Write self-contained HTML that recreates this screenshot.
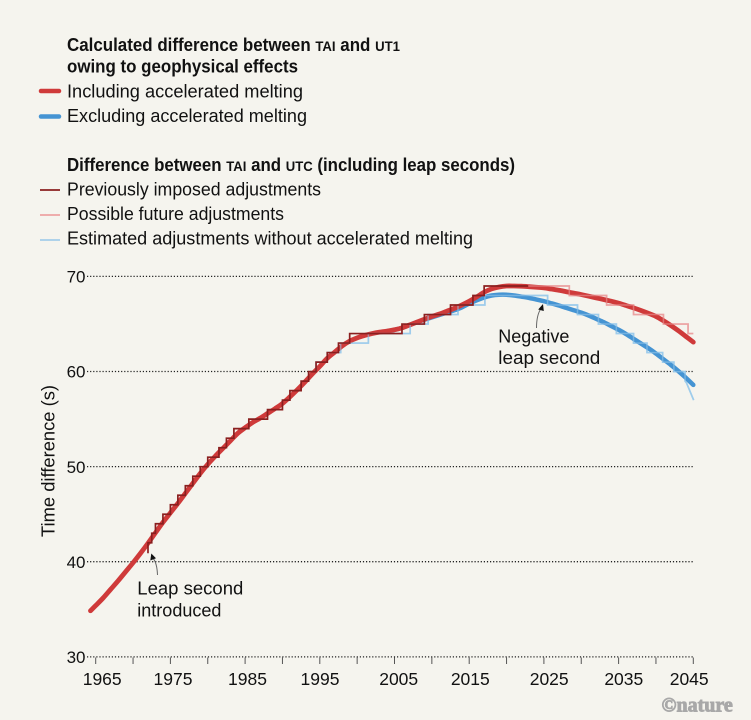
<!DOCTYPE html>
<html>
<head>
<meta charset="utf-8">
<style>
  html, body { margin:0; padding:0; background:#f5f4ee; }
  svg { display:block; }
  text { font-family: "Liberation Sans", "DejaVu Sans", sans-serif; fill:#111; }
  text.nat { font-family: "Liberation Serif", "DejaVu Serif", serif; font-weight: bold; fill:#a8a8a8; stroke:#a8a8a8; stroke-width:0.9px; }
</style>
</head>
<body>
<svg id="chart" width="751" height="720" viewBox="0 0 751 720" xmlns="http://www.w3.org/2000/svg">
  <rect x="0" y="0" width="751" height="720" fill="#f5f4ee"/>

  <!-- Legend -->
  <text x="67" y="51" font-size="18" font-weight="bold" textLength="333" lengthAdjust="spacingAndGlyphs">Calculated difference between <tspan font-size="14">TAI</tspan> and <tspan font-size="14">UT1</tspan></text>
  <text x="67" y="72.5" font-size="18" font-weight="bold" textLength="231" lengthAdjust="spacingAndGlyphs">owing to geophysical effects</text>
  <line x1="41" y1="91" x2="59" y2="91" stroke="#cf3a3a" stroke-width="4.5" stroke-linecap="round"/>
  <text x="67" y="97.5" font-size="18" textLength="236" lengthAdjust="spacingAndGlyphs">Including accelerated melting</text>
  <line x1="41" y1="116.5" x2="59" y2="116.5" stroke="#4594d3" stroke-width="4.5" stroke-linecap="round"/>
  <text x="67" y="122" font-size="18" textLength="240" lengthAdjust="spacingAndGlyphs">Excluding accelerated melting</text>

  <text x="67" y="171" font-size="18" font-weight="bold" textLength="448" lengthAdjust="spacingAndGlyphs">Difference between <tspan font-size="14">TAI</tspan> and <tspan font-size="14">UTC</tspan> (including leap seconds)</text>
  <line x1="40" y1="190" x2="60" y2="190" stroke="#8a1f1f" stroke-width="1.8"/>
  <text x="67" y="195.5" font-size="18" textLength="254" lengthAdjust="spacingAndGlyphs">Previously imposed adjustments</text>
  <line x1="40" y1="215" x2="60" y2="215" stroke="#eda3a3" stroke-width="1.8"/>
  <text x="67" y="220" font-size="18" textLength="217" lengthAdjust="spacingAndGlyphs">Possible future adjustments</text>
  <line x1="40" y1="240" x2="60" y2="240" stroke="#a3cdea" stroke-width="1.8"/>
  <text x="67" y="244.5" font-size="18" textLength="406" lengthAdjust="spacingAndGlyphs">Estimated adjustments without accelerated melting</text>

  <!-- gridlines -->
  <g stroke="#222" stroke-width="1.3" stroke-dasharray="1.2 1.9">
    <line x1="87" y1="276.4" x2="693.5" y2="276.4"/>
    <line x1="87" y1="371.5" x2="693.5" y2="371.5"/>
    <line x1="87" y1="466.6" x2="693.5" y2="466.6"/>
    <line x1="87" y1="561.7" x2="693.5" y2="561.7"/>
    <line x1="87" y1="656.9" x2="693.5" y2="656.9"/>
  </g>
  <g id="ticks" stroke="#555" stroke-width="1"></g>

  <!-- y labels -->
  <g font-size="17" text-anchor="end">
    <text x="85.5" y="282.6">70</text>
    <text x="85.5" y="377.7">60</text>
    <text x="85.5" y="472.8">50</text>
    <text x="85.5" y="567.9">40</text>
    <text x="85.5" y="663.1">30</text>
  </g>
  <text transform="translate(54.5,461) rotate(-90)" font-size="18" text-anchor="middle" textLength="152" lengthAdjust="spacingAndGlyphs">Time difference (s)</text>

  <!-- x labels -->
  <g font-size="17.5" text-anchor="middle">
    <text x="102.2" y="685">1965</text>
    <text x="173" y="685">1975</text>
    <text x="247.5" y="685">1985</text>
    <text x="320" y="685">1995</text>
    <text x="398.7" y="685">2005</text>
    <text x="470.3" y="685">2015</text>
    <text x="549.2" y="685">2025</text>
    <text x="623.8" y="685">2035</text>
    <text x="689.2" y="685">2045</text>
  </g>

  <!-- series -->
  <path id="lbsteps" fill="none" stroke="#9ccbeb" stroke-width="1.7" opacity="0.95"/>
  <path id="pinksteps" fill="none" stroke="#eba0a0" stroke-width="1.7" opacity="0.95"/>
  <path id="bluecurve" fill="none" stroke="#4594d3" stroke-width="4.5" stroke-linecap="round" stroke-linejoin="round"/>
  <path id="redcurve" fill="none" stroke="#cf3a3a" stroke-width="4.8" stroke-linecap="round" stroke-linejoin="round"/>
  <path id="lbsteps2" fill="none" stroke="#9ccbeb" stroke-width="1.5" opacity="0.55"/>
  <path id="pinksteps2" fill="none" stroke="#eba0a0" stroke-width="1.5" opacity="0.55"/>
  <path id="darksteps" fill="none" stroke="#8a1f1f" stroke-width="1.7"/>

  <!-- annotations -->
  <path d="M157.5,575 Q157,563 153.2,558.5" fill="none" stroke="#666" stroke-width="1"/>
  <polygon points="151.3,553.5 150.3,560.5 156,558.3" fill="#111"/>
  <text x="137.3" y="594.5" font-size="18" textLength="106" lengthAdjust="spacingAndGlyphs">Leap second</text>
  <text x="137.3" y="616.5" font-size="18">introduced</text>

  <path d="M536.5,328 Q536.5,315 541,308.5" fill="none" stroke="#666" stroke-width="1"/>
  <polygon points="543,304 538.2,309.5 543.8,311" fill="#111"/>
  <text x="498.3" y="342.7" font-size="18">Negative</text>
  <text x="498.3" y="364" font-size="18" textLength="102" lengthAdjust="spacingAndGlyphs">leap second</text>

  <text class="nat" x="661.5" y="711.5" font-size="20" font-weight="bold">©nature</text>
</svg>

<script>
(function(){
  var X = function(t){ return 95.7 + (t-1965)*7.47; };
  var Y = function(v){ return 656.9 - (v-30)*9.51; };
  function f(n){ return n.toFixed(2); }
  function smooth(data){
    var p = data.map(function(d){ return [X(d[0]), Y(d[1])]; });
    var s = 'M' + f(p[0][0]) + ',' + f(p[0][1]);
    for (var i=0;i<p.length-1;i++){
      var p0 = p[i-1]||p[i], p1=p[i], p2=p[i+1], p3=p[i+2]||p[i+1];
      var c1x = p1[0]+(p2[0]-p0[0])/6, c1y = p1[1]+(p2[1]-p0[1])/6;
      var c2x = p2[0]-(p3[0]-p1[0])/6, c2y = p2[1]-(p3[1]-p1[1])/6;
      s += ' C'+f(c1x)+','+f(c1y)+' '+f(c2x)+','+f(c2y)+' '+f(p2[0])+','+f(p2[1]);
    }
    return s;
  }
  function steps(t0, v0, changes, tEnd){
    var s = 'M'+f(X(t0))+','+f(Y(v0));
    var cur = v0;
    changes.forEach(function(c){
      s += ' L'+f(X(c[0]))+','+f(Y(cur))+' L'+f(X(c[0]))+','+f(Y(c[1]));
      cur = c[1];
    });
    if (tEnd!==undefined) s += ' L'+f(X(tEnd))+','+f(Y(cur));
    return s;
  }
  var red = [
    [1964.3,34.85],[1965,35.4],[1966,36.2],[1967,37.1],[1968,38.0],[1969,38.95],[1970,39.9],
    [1971,40.9],[1972,41.95],[1973,43.05],[1974,44.15],[1975,45.15],[1976,46.15],[1977,47.2],
    [1978,48.25],[1979,49.3],[1980,50.25],[1981,51.1],[1982,51.9],[1983,52.7],[1984,53.5],
    [1985,54.1],[1986,54.65],[1987,55.1],[1988,55.6],[1989,56.1],[1990,56.65],[1991,57.35],
    [1992,58.1],[1993,58.9],[1994,59.75],[1995,60.55],[1996,61.4],[1997,62.05],[1998,62.7],
    [1999,63.2],[2000,63.55],[2001,63.8],[2002,64.0],[2003,64.15],[2004,64.25],[2005,64.4],
    [2006,64.6],[2007,64.9],[2008,65.2],[2009,65.5],[2010,65.8],[2011,66.05],[2012,66.35],
    [2013,66.65],[2014,67.0],[2015,67.4],[2016,67.85],[2017,68.35],[2018,68.7],[2019,68.9],
    [2020,69.0],[2021,69.0],[2022,68.98],[2023,68.93],[2024,68.87],[2025,68.8],[2026,68.68],
    [2027,68.55],[2028,68.4],[2029,68.25],[2030,68.1],[2031,67.93],[2032,67.75],[2033,67.58],
    [2034,67.4],[2035,67.2],[2036,66.95],[2037,66.7],[2038,66.43],[2039,66.13],[2040,65.8],
    [2041,65.35],[2042,64.85],[2043,64.3],[2044,63.7],[2045,63.1]
  ];
  var blue = [
    [2004,64.25],[2005,64.4],[2006,64.6],[2007,64.9],[2008,65.2],[2009,65.45],[2010,65.7],
    [2011,65.95],[2012,66.2],[2013,66.45],[2014,66.75],[2015,67.15],[2016,67.5],[2017,67.8],
    [2018,68.0],[2019,68.08],[2020,68.08],[2021,68.0],[2022,67.88],[2023,67.75],[2024,67.58],
    [2025,67.4],[2026,67.18],[2027,66.95],[2028,66.7],[2029,66.45],[2030,66.2],[2031,65.9],
    [2032,65.55],[2033,65.2],[2034,64.8],[2035,64.4],[2036,63.95],[2037,63.45],[2038,62.95],
    [2039,62.45],[2040,61.9],[2041,61.3],[2042,60.7],[2043,60.05],[2044,59.35],[2045,58.6]
  ];
  document.getElementById('redcurve').setAttribute('d', smooth(red));
  document.getElementById('bluecurve').setAttribute('d', smooth(blue));

  var dark = steps(1972, 40.9, [
    [1972,42],[1972.5,43],[1973,44],[1974,45],[1975,46],[1976,47],[1977,48],[1978,49],[1979,50],
    [1980,51],[1981.5,52],[1982.5,53],[1983.5,54],[1985.5,55],[1988,56],[1990,57],[1991,58],
    [1992.5,59],[1993.5,60],[1994.5,61],[1996,62],[1997.5,63],[1999,64],[2006,65],[2009,66],
    [2012.5,67],[2015.5,68],[2017,69]
  ], 2022.9);
  document.getElementById('darksteps').setAttribute('d', dark);

  var pink = steps(2022.9, 69, [
    [2028.4,68],[2033.4,67],[2037,66],[2041,65],[2044.3,64]
  ], 2045);
  document.getElementById('pinksteps').setAttribute('d', pink);
  document.getElementById('pinksteps2').setAttribute('d', pink);

  var lb = steps(1994.5, 60, [
    [1994.5,61],[1996,62],[1997.8,63],[2001.5,64],[2007.1,65],[2009.5,66],[2013.5,67],[2017.1,68],
    [2025.5,67],[2029.5,66],[2032.3,65],[2034.7,64],[2037,63],[2038.8,62],[2040.9,61],
    [2042.4,60],[2043.9,59]
  ]);
  lb += ' L'+f(X(2044.1))+','+f(Y(58.8))+' L'+f(X(2045.05))+','+f(Y(57.0));
  document.getElementById('lbsteps').setAttribute('d', lb);
  document.getElementById('lbsteps2').setAttribute('d', lb);

  var tg = document.getElementById('ticks');
  for (var k=0;k<=16;k++){
    var x = 95.7 + k*37.35;
    var l = document.createElementNS('http://www.w3.org/2000/svg','line');
    l.setAttribute('x1', x.toFixed(2)); l.setAttribute('x2', x.toFixed(2));
    l.setAttribute('y1', '657.5'); l.setAttribute('y2', '664');
    tg.appendChild(l);
  }
})();
</script>
</body>
</html>
